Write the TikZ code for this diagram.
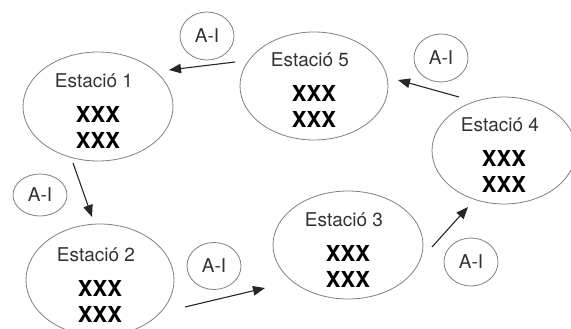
\documentclass[tikz,border=0pt]{standalone}
\usepackage{fontspec}
\setmainfont{TeX Gyre Heros}
\usetikzlibrary{shapes.geometric,arrows.meta}
\definecolor{edgegray}{HTML}{808080}
\definecolor{txtgray}{HTML}{333333}
\begin{document}
\begin{tikzpicture}[x=1pt,y=-1pt,
  station/.style={ellipse,draw=edgegray,line width=0.8pt,inner sep=0pt},
  aibox/.style={ellipse,draw=edgegray,line width=0.8pt,inner sep=0pt,minimum width=54pt},
  ttl/.style={anchor=base,inner sep=0pt,text=txtgray,font=\fontsize{19}{21}\selectfont},
  xx/.style={anchor=base,inner sep=0pt,text=black,font=\fontsize{22}{24}\selectfont\bfseries},
  ail/.style={anchor=base,inner sep=0pt,text=txtgray,font=\fontsize{19}{21}\selectfont},
  arr/.style={draw=black!85,line width=1.1pt,-{Triangle[length=12pt,width=9.5pt]}}]
\useasboundingbox (0,0) rectangle (571,329);
\clip (0,0) rectangle (571,329);
\fill[white] (0,0) rectangle (571,329);

% stations
\node[station,minimum width=150pt,minimum height=109pt] (s1) at (98,106.5) {};
\node[station,minimum width=148pt,minimum height=108pt] (s5) at (314,86) {};
\node[station,minimum width=144pt,minimum height=107pt] (s4) at (504,150.5) {};
\node[station,minimum width=150pt,minimum height=108pt] (s3) at (348,245) {};
\node[station,minimum width=148pt,minimum height=112pt] (s2) at (100,280) {};

\foreach \s/\n in {s1/1,s5/5,s4/4,s3/3,s2/2}{
  \node[ttl] (t\n) at ([shift={(-4,-19)}]\s.center) {Estació \n};
  \node[xx] (xa\n) at ([shift={(0,16)}]\s.center) {XXX};
  \node[xx] (xb\n) at ([shift={(0,42)}]\s.center) {XXX};
}

% A-I ellipses
\node[aibox,minimum height=48pt] (a51) at (207,36) {};
\node[aibox,minimum height=48pt] (a45) at (441,58) {};
\node[aibox,minimum height=42pt] (a12) at (40,195) {};
\node[aibox,minimum height=47pt] (a23) at (214,266) {};
\node[aibox,minimum height=48pt] (a34) at (471,262) {};
\foreach \a in {a51,a45,a12,a23,a34}{
  \node[ail] (l\a) at ([shift={(0,6.8)}]\a.center) {A-I};
}

% arrow end points
\coordinate (p5s) at (235,62);  \coordinate (p1e) at (169,70);
\coordinate (p4s) at (459,97);  \coordinate (p5e) at (398,80);
\coordinate (p1s) at (73,163);  \coordinate (p2e) at (92,217);
\coordinate (p2s) at (185,307); \coordinate (p3e) at (265,288);
\coordinate (p3s) at (432,247); \coordinate (p4e) at (468,207);

\draw[arr] (p5s) -- (p1e);
\draw[arr] (p4s) -- (p5e);
\draw[arr] (p1s) -- (p2e);
\draw[arr] (p2s) -- (p3e);
\draw[arr] (p3s) -- (p4e);
\end{tikzpicture}
\end{document}
